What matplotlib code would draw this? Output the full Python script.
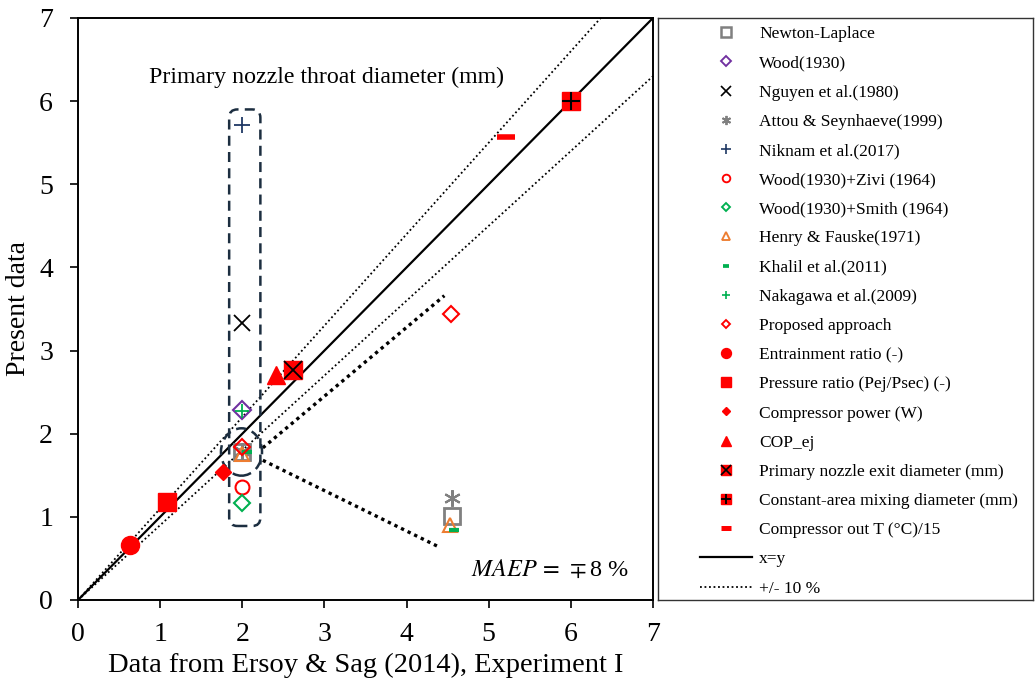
import numpy as np
import matplotlib.pyplot as plt
from matplotlib.lines import Line2D
from matplotlib.patches import FancyBboxPatch, Ellipse

plt.rcParams['font.family'] = ['Liberation Serif', 'DejaVu Serif']
plt.rcParams['mathtext.fontset'] = 'stix'

# correlations for the primary nozzle throat diameter
newton_x, newton_y = [2.0, 4.55], [1.78, 1.01]
wood_x, wood_y = [2.0], [2.29]
nguyen_x, nguyen_y = [2.0], [3.33]
attou_x, attou_y = [2.0, 4.55], [1.79, 1.23]
niknam_x, niknam_y = [2.0], [5.71]
zivi_x, zivi_y = [2.0], [1.36]
smith_x, smith_y = [2.0], [1.17]
henry_x, henry_y = [2.0, 4.53], [1.76, 0.90]
khalil_x, khalil_y = [2.06, 4.58], [1.78, 0.84]
nakagawa_x, nakagawa_y = [2.0], [2.27]
proposed_x, proposed_y = [2.0, 4.54], [1.84, 3.44]

# other ejector quantities
entrain_x, entrain_y = [0.63], [0.66]
pratio_x, pratio_y = [1.08], [1.18]
power_x, power_y = [1.77], [1.54]
cop_x, cop_y = [2.41], [2.71]
exit_x, exit_y = [2.62], [2.77]
mixing_x, mixing_y = [6.0], [6.0]
tout_x, tout_y = [5.21], [5.57]

GRAY = '#808080'
PURPLE = '#7030A0'
NAVY = '#1F3864'
GREEN = '#00B050'
ORANGE = '#ED7D31'
RED = '#FF0000'

fig = plt.figure(figsize=(10.35, 6.89), dpi=100)
ax = fig.add_axes([0.0754, 0.1292, 0.5555, 0.8447])
lax = fig.add_axes([0.6357, 0.1292, 0.3623, 0.8447])

xs = np.array([0, 7])
ax.plot(xs, xs, color='black', lw=1.6, zorder=2)
ax.plot(xs, 1.1 * xs, color='black', lw=1.3, ls=(0, (1, 1.5)), zorder=2)
ax.plot(xs, 0.9 * xs, color='black', lw=1.3, ls=(0, (1, 1.5)), zorder=2)

# pointers from the circled cluster
ax.plot([2.25, 4.46], [1.83, 3.66], color='black', lw=2.4, ls=(0, (1, 1.2)), zorder=2)
ax.plot([2.25, 4.41], [1.68, 0.63], color='black', lw=2.4, ls=(0, (1, 1.2)), zorder=2)

box = FancyBboxPatch((1.94, 0.99), 0.18, 4.81, boxstyle='round,pad=0.1',
                     fill=False, ec='#1C2E40', lw=1.8, ls=(0, (4, 2.5)), zorder=3)
ax.add_patch(box)
ax.add_patch(Ellipse((1.99, 1.78), 0.5, 0.57, fill=False, ec='#1C2E40',
                     lw=1.8, ls=(0, (4, 2.5)), zorder=3))

series = [
    ('Newton-Laplace', newton_x, newton_y, dict(marker='s', mfc='none', mec=GRAY, ms=12, mew=2)),
    ('Wood(1930)', wood_x, wood_y, dict(marker='D', mfc='none', mec=PURPLE, ms=9, mew=1.5)),
    ('Nguyen et al.(1980)', nguyen_x, nguyen_y, dict(marker='x', mec='black', ms=12, mew=1.3)),
    ('Attou & Seynhaeve(1999)', attou_x, attou_y, dict(marker=(6, 2, 0), mec=GRAY, ms=12, mew=1.5)),
    ('Niknam et al.(2017)', niknam_x, niknam_y, dict(marker='+', mec=NAVY, ms=12, mew=1.3)),
    ('Wood(1930)+Zivi (1964)', zivi_x, zivi_y, dict(marker='o', mfc='none', mec=RED, ms=10, mew=1.5)),
    ('Wood(1930)+Smith (1964)', smith_x, smith_y, dict(marker='D', mfc='none', mec=GREEN, ms=8, mew=1.5)),
    ('Henry & Fauske(1971)', henry_x, henry_y, dict(marker='^', mfc='none', mec=ORANGE, ms=10, mew=1.5)),
    ('Khalil et al.(2011)', khalil_x, khalil_y, dict(marker='_', mec=GREEN, ms=7, mew=3)),
    ('Nakagawa et al.(2009)', nakagawa_x, nakagawa_y, dict(marker='+', mec=GREEN, ms=10, mew=1.3)),
    ('Proposed approach', proposed_x, proposed_y, dict(marker='D', mfc='none', mec=RED, ms=8, mew=1.5)),
    ('Entrainment ratio (-)', entrain_x, entrain_y, dict(marker='o', mfc=RED, mec=RED, ms=13)),
    ('Pressure ratio (Pej/Psec) (-)', pratio_x, pratio_y, dict(marker='s', mfc=RED, mec=RED, ms=13)),
    ('Compressor power (W)', power_x, power_y, dict(marker='D', mfc=RED, mec=RED, ms=8)),
    ('COP_ej', cop_x, cop_y, dict(marker='^', mfc=RED, mec=RED, ms=13)),
    ('Primary nozzle exit diameter (mm)', exit_x, exit_y,
     [dict(marker='s', mfc=RED, mec=RED, ms=13), dict(marker='x', mec='black', ms=13, mew=1.3)]),
    ('Constant-area mixing diameter (mm)', mixing_x, mixing_y,
     [dict(marker='s', mfc=RED, mec=RED, ms=13), dict(marker='+', mec='black', ms=13, mew=1.5)]),
    ('Compressor out T (°C)/15', tout_x, tout_y, dict(marker='_', mec=RED, ms=13, mew=4)),
]

handles, labels = [], []
for label, x, y, style in series:
    styles = style if isinstance(style, list) else [style]
    parts = []
    for st in styles:
        ax.plot(x, y, ls='none', zorder=4, **st)
        small = dict(st)
        small['ms'] = st['ms'] * 0.55
        if 'mew' in small:
            small['mew'] = max(small['mew'] * 0.9, 1.2)
        parts.append(Line2D([], [], ls='none', **small))
    handles.append(tuple(parts) if len(parts) > 1 else parts[0])
    labels.append(label)

handles.append(Line2D([], [], color='black', lw=1.6))
labels.append('x=y')
handles.append(Line2D([], [], color='black', lw=1.3, ls=(0, (1, 1.5))))
labels.append('+/- 10 %')

ax.text(3.02, 6.29, 'Primary nozzle throat diameter (mm)', fontsize=17.2, ha='center', va='center')
ax.text(4.78, 0.36, r'$MAEP\,=\,\mp$8 %', fontsize=17.5, ha='left', va='center')

ax.set_xlim(0, 7)
ax.set_ylim(0, 7)
ax.set_xticks(range(8))
ax.set_yticks(range(8))
ax.tick_params(direction='out', length=6, width=1.2, labelsize=20)
ax.tick_params(axis='x', pad=10)
ax.tick_params(axis='y', pad=12)
for sp in ax.spines.values():
    sp.set_linewidth(1.4)
ax.set_xlabel('Data from Ersoy & Sag (2014), Experiment I', fontsize=20.5, labelpad=4)
ax.set_ylabel('Present data', fontsize=20, labelpad=6)

lax.set_xticks([])
lax.set_yticks([])
for sp in lax.spines.values():
    sp.set_linewidth(1.0)
    sp.set_color('#333333')
lax.legend(handles, labels, loc='upper left', bbox_to_anchor=(0.112, 0.986),
           frameon=False, fontsize=12.5, labelspacing=0.75, handlelength=3.0,
           handletextpad=0.4, borderpad=0, borderaxespad=0)

fig.savefig('out.png', dpi=100)
